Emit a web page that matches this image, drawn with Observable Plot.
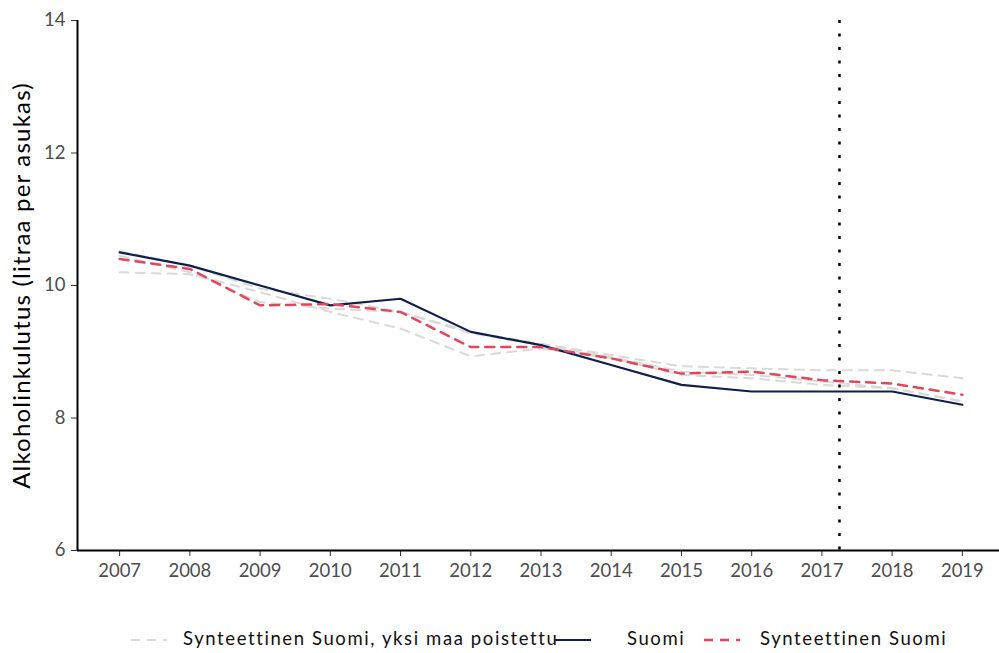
<!DOCTYPE html>
<html>
<head>
<meta charset="utf-8">
<script src="https://cdn.jsdelivr.net/npm/d3@7"></script>
<script src="https://cdn.jsdelivr.net/npm/@observablehq/plot@0.6"></script>
<style>
  body { margin: 0; background: #fff; font-family: Lato, "Noto Sans", sans-serif; }
  #wrap { position: relative; width: 999px; height: 653px; }
  #legend { position: absolute; left: 0; top: 600px; width: 999px; height: 53px; }
  .key { position: absolute; top: 34px; }
  .lab { position: absolute; top: 27px; font-size: 18.5px; line-height: 22px; color: #111; letter-spacing: 1.6px; white-space: nowrap; }
</style>
</head>
<body>
<div id="wrap">
  <div id="chart"></div>
  <div id="legend"></div>
</div>
<script>
const years = [2007, 2008, 2009, 2010, 2011, 2012, 2013, 2014, 2015, 2016, 2017, 2018, 2019];
const suomi = [10.5, 10.3, 10.0, 9.7, 9.8, 9.3, 9.1, 8.8, 8.5, 8.4, 8.4, 8.4, 8.2];
const synteettinen = [10.4, 10.25, 9.7, 9.72, 9.6, 9.07, 9.07, 8.9, 8.67, 8.7, 8.57, 8.52, 8.35];
const grayA = [10.52, 10.3, 9.95, 9.8, 9.6, 9.3, 9.12, 8.95, 8.78, 8.75, 8.72, 8.72, 8.6];
const grayB = [10.2, 10.17, 9.9, 9.6, 9.35, 8.93, 9.05, 8.9, 8.65, 8.6, 8.5, 8.45, 8.25];
const grayC = [10.45, 10.2, 9.75, 9.65, 9.6, 9.28, 9.1, 8.92, 8.7, 8.65, 8.55, 8.45, 8.25];
const treatmentYear = 2017.25;
const yTicks = [6, 8, 10, 12, 14];
const labels = {
  gray: "Synteettinen Suomi, yksi maa poistettu",
  suomi: "Suomi",
  synth: "Synteettinen Suomi"
};
const colors = { gray: "#d9d9d6", suomi: "#0f1f4b", synth: "#e0475e" };

const toRows = (arr, name) => arr.map((v, i) => ({ year: years[i], value: v, series: name }));
const grayRows = [...toRows(grayA, "A"), ...toRows(grayB, "B"), ...toRows(grayC, "C")];

const chart = Plot.plot({
  width: 999,
  height: 600,
  marginTop: 20,
  marginBottom: 50,
  marginLeft: 77,
  marginRight: 0,
  style: { fontFamily: "Lato, 'Noto Sans', sans-serif", background: "#fff", overflow: "visible" },
  x: { domain: [2006.4, 2019.6], range: [77, 1004], label: null },
  y: { domain: [6, 14], range: [550, 20], label: null },
  marks: [
    Plot.line(grayRows, { x: "year", y: "value", z: "series", stroke: colors.gray, strokeWidth: 2, strokeDasharray: "9,7" }),
    Plot.line(toRows(suomi, "Suomi"), { x: "year", y: "value", stroke: colors.suomi, strokeWidth: 2.2 }),
    Plot.line(toRows(synteettinen, "Synt"), { x: "year", y: "value", stroke: colors.synth, strokeWidth: 2.5, strokeDasharray: "9,7" }),
    Plot.ruleX([treatmentYear], { stroke: "#000", strokeWidth: 2.5, strokeDasharray: "3,10.5" }),
    Plot.axisX({ ticks: years, tickFormat: d => String(d), tickSize: 6, tickPadding: 7, fontSize: 18.5, color: "#4d4d4d" }),
    Plot.axisY({ ticks: yTicks, tickSize: 6, tickPadding: 6, fontSize: 18.5, color: "#4d4d4d", label: null }),
    Plot.ruleY([6], { stroke: "#000", strokeWidth: 2 }),
    Plot.ruleX([2006.4], { stroke: "#000", strokeWidth: 2 }),
    Plot.text(["Alkoholinkulutus (litraa per asukas)"], { frameAnchor: "left", dx: -55, rotate: -90, fontSize: 24, fill: "#000", textAnchor: "middle", style: "letter-spacing:1.2px" })
  ]
});
chart.querySelectorAll("[aria-label='x-axis tick'], [aria-label='y-axis tick']").forEach(g => g.setAttribute("stroke", "#333"));
const titleText = chart.querySelector("[aria-label='text'] text");
if (titleText) titleText.style.letterSpacing = "1.2px";
document.getElementById("chart").appendChild(chart);

const legend = document.getElementById("legend");
const items = [
  { key: "gray", keyLeft: 131, textLeft: 183, dash: "9,7", w: 2 },
  { key: "suomi", keyLeft: 555, textLeft: 627, dash: null, w: 2.2 },
  { key: "synth", keyLeft: 704, textLeft: 760, dash: "9,7", w: 2.5 }
];
for (const it of items) {
  const k = document.createElement("div");
  k.className = "key";
  k.style.left = it.keyLeft + "px";
  k.innerHTML = `<svg width="36" height="12" style="display:block"><line x1="0" x2="36" y1="6" y2="6" stroke="${colors[it.key]}" stroke-width="${it.w}" ${it.dash ? `stroke-dasharray="${it.dash}"` : ""}/></svg>`;
  legend.appendChild(k);
  const t = document.createElement("div");
  t.className = "lab";
  t.style.left = it.textLeft + "px";
  t.textContent = labels[it.key];
  legend.appendChild(t);
}
</script>
</body>
</html>
